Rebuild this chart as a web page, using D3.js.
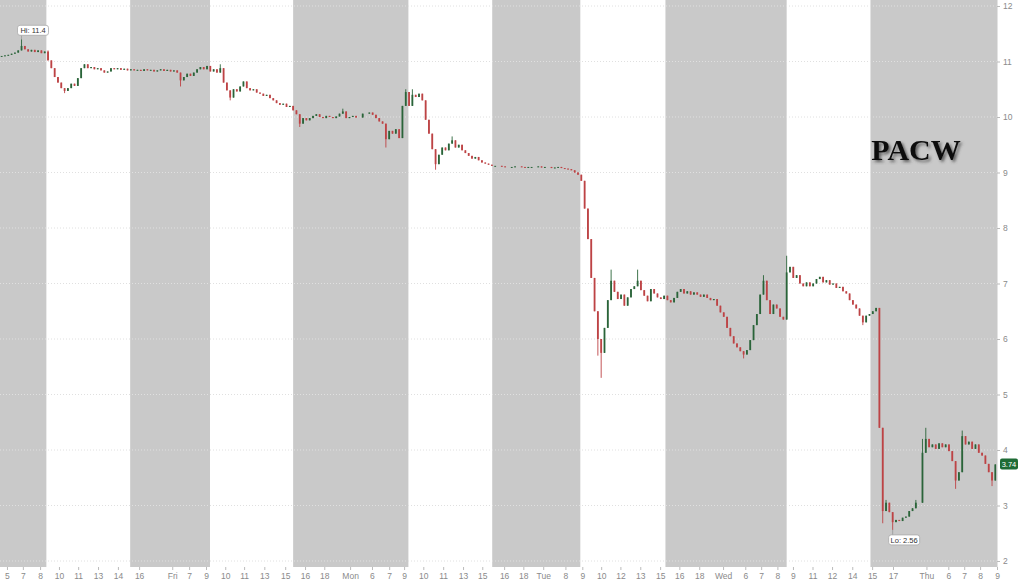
<!DOCTYPE html>
<html><head><meta charset="utf-8">
<script src="https://cdn.jsdelivr.net/npm/d3@7"></script>
<style>body{margin:0;background:#fff;}svg{display:block;}</style>
</head><body>
<svg id="chart" width="1024" height="581"></svg>
<script>
// ---- data (slot index = sequential bar position on the compressed intraday axis) ----
const closes = [
  11.10,11.11,11.12,11.14,11.16,11.20,11.28,11.22,11.18,11.21,11.17,11.20,11.15,11.18,
  11.02,10.88,10.72,10.62,10.52,10.47,10.52,10.60,10.56,10.70,10.88,10.95,10.88,10.90,10.86,10.88,10.84,10.80,10.82,10.88,10.86,10.88,10.85,10.87,10.84,
  10.86,10.84,10.85,10.83,10.86,10.84,10.85,10.82,10.84,10.86,10.83,10.85,10.82,10.84,10.80,10.66,10.72,10.78,10.74,10.80,10.86,10.90,10.86,10.92,
  10.82,10.86,10.80,10.88,10.62,10.48,10.35,10.50,10.46,10.55,10.64,10.52,10.48,10.50,10.44,10.42,10.38,10.40,10.34,10.30,10.25,10.22,10.24,10.18,10.20,10.12,
  10.05,9.88,9.98,9.94,9.98,10.02,10.05,10.00,9.98,10.02,10.00,9.98,10.01,10.06,10.10,9.98,10.00,10.02,9.99,null,10.06,null,10.08,10.04,9.98,9.92,9.88,9.60,9.75,9.70,9.78,9.62,10.20,10.45,
  10.20,10.40,10.36,10.42,10.30,9.95,9.70,9.42,9.15,9.32,9.45,9.40,9.52,9.58,9.45,9.50,9.40,9.35,9.30,9.25,9.28,9.22,9.18,9.16,9.14,9.12,
  9.12,null,9.11,9.10,null,9.10,9.11,null,9.10,9.09,9.10,9.10,null,9.11,9.09,9.10,null,9.08,9.09,9.10,9.08,9.07,9.06,9.04,9.00,8.96,
  8.85,8.35,7.80,7.10,6.50,6.00,5.75,6.20,6.70,7.05,6.85,6.72,6.80,6.60,6.75,6.90,6.95,7.05,6.88,6.78,6.68,6.90,6.82,6.75,6.72,6.78,
  6.70,6.66,6.74,6.85,6.90,6.82,6.86,6.80,6.84,6.80,6.76,6.80,6.74,6.70,6.72,6.60,6.48,6.40,6.20,6.05,5.92,5.85,5.78,5.72,5.80,5.98,6.25,6.45,6.80,7.05,6.70,6.45,6.62,6.55,6.40,6.35,
  7.20,7.30,7.10,7.15,7.00,6.95,7.02,6.95,7.00,7.08,7.12,7.02,7.06,6.98,7.00,6.92,6.94,6.86,6.82,6.70,6.62,6.55,6.42,6.30,6.42,6.45,6.50,6.56,
  4.40,2.90,3.05,2.88,2.70,2.74,2.72,2.78,2.80,2.90,2.95,3.05,null,3.95,4.20,4.05,4.10,4.02,4.12,4.05,4.10,3.98,3.80,3.45,3.60,4.25,4.10,4.15,4.02,4.10,3.95,3.90,3.75,3.60,3.45,3.74
];
const highMarks = [[6,11.40],[14,11.20],[66,10.95],[103,10.15],[122,10.50],[124,10.50],[136,9.65],[184,7.25],[192,7.25],[230,7.15],[237,7.50],[267,3.10],[276,3.10],[278,4.20],[279,4.40],[290,4.35]];
const lowMarks = [[19,10.43],[54,10.55],[69,10.30],[90,9.82],[116,9.45],[131,9.05],[180,5.70],[181,5.30],[224,5.65],[260,6.25],[266,2.68],[269,2.56],[278,3.40],[288,3.30],[299,3.35]];
const regularSessions = [[13.5,38.8],[62.9,88.0],[122.8,148.1],[174.7,200.4],[237.0,262.3]];
const xTickLabels = ["5","7","8","10","11","13","14","16","Fri","7","9","10","11","13","15","16","18","Mon","6","7","9","10","11","13","15","16","18","Tue","8","9","10","12","13","15","16","18","Wed","6","7","8","9","11","12","14","15","17","Thu","6","7","8","9"];
const xTickSlots  = [1.6,6.4,11.6,17.3,23.1,29.1,35.1,41.5,51.5,56.6,61.7,67.5,73.2,79.3,85.6,91.6,97.4,105.2,111.8,117,121.5,127.3,133.3,139.3,145.1,151.7,157.5,163.5,170.2,175.3,181,186.8,192.8,198.8,204.6,210.6,217.8,224.5,229.3,234.2,238.9,244.8,250.7,256.8,262.8,269.1,279.2,285.8,290.6,295.4,300.5];
const yTicks = [2,3,4,5,6,7,8,9,10,11,12];
const tickerName = "PACW";

// ---- layout ----
const plotRight = 997, plotBottom = 567;
const svg = d3.select("#chart");
const x = d3.scaleLinear().domain([-0.5, 300.5]).range([0, plotRight]);
const y = d3.scaleLinear().domain([2, 12]).range([561, 6]);

// candles
const hMap = new Map(highMarks), lMap = new Map(lowMarks);
const candles = [];
let prev = null;
closes.forEach((c, i) => {
  if (c == null) return;
  const o = prev == null ? c : prev;
  let h = Math.max(o, c), l = Math.min(o, c);
  if (hMap.has(i)) h = Math.max(h, hMap.get(i));
  if (lMap.has(i)) l = Math.min(l, lMap.get(i));
  candles.push({i, o, h, l, c});
  prev = c;
});

// background & bands
svg.append("rect").attr("width",1024).attr("height",581).attr("fill","#ffffff");
const bounds = [-0.5];
regularSessions.forEach(s => bounds.push(s[0], s[1]));
bounds.push(300.5);
const grayBands = [];
for (let k = 0; k < bounds.length; k += 2) grayBands.push([bounds[k], bounds[k+1]]);
svg.append("g").selectAll("rect").data(grayBands).join("rect")
  .attr("x", d => x(d[0])).attr("width", d => x(d[1]) - x(d[0]))
  .attr("y", 0).attr("height", plotBottom).attr("fill", "#c9c9c9");

// grid
svg.append("g").selectAll("line").data(yTicks).join("line")
  .attr("x1", 0).attr("x2", plotRight).attr("y1", d => y(d)).attr("y2", d => y(d))
  .attr("stroke", "#e0e0e0").attr("stroke-dasharray", "1,2").attr("stroke-width", 1);

// candles
const bw = 1.8;
const cg = svg.append("g");
const up = "#2a6439", down = "#bd4345";
cg.selectAll("line").data(candles).join("line")
  .attr("x1", d => x(d.i)).attr("x2", d => x(d.i))
  .attr("y1", d => y(d.h)).attr("y2", d => y(d.l))
  .attr("stroke", d => d.c >= d.o ? up : down).attr("stroke-width", 0.9);
cg.selectAll("rect").data(candles).join("rect")
  .attr("x", d => x(d.i) - bw/2).attr("width", bw)
  .attr("y", d => y(Math.max(d.o, d.c)))
  .attr("height", d => Math.max(1, Math.abs(y(d.o) - y(d.c))))
  .attr("fill", d => d.c >= d.o ? up : down);

// axes
svg.append("line").attr("x1", plotRight).attr("x2", plotRight).attr("y1", 0).attr("y2", plotBottom)
  .attr("stroke", "#c8c8c8");
const xa = svg.append("g").attr("transform", `translate(0,${plotBottom})`)
  .call(d3.axisBottom(x).tickValues(xTickSlots).tickFormat((d, i) => xTickLabels[i]).tickSize(3).tickPadding(3));
xa.select(".domain").remove();
xa.selectAll("line").attr("stroke", "#bbb");
xa.selectAll("text").attr("fill", "#8a8a8a").style("font", "8.5px 'Liberation Sans', Arial, sans-serif");
const ya = svg.append("g").attr("transform", `translate(${plotRight},0)`)
  .call(d3.axisRight(y).tickValues(yTicks).tickFormat(d3.format("d")).tickSize(3).tickPadding(3));
ya.select(".domain").remove();
ya.selectAll("line").attr("stroke", "#bbb");
ya.selectAll("text").attr("fill", "#8a8a8a").style("font", "8.5px 'Liberation Sans', Arial, sans-serif");

// Hi / Lo labels
const hiC = candles.reduce((a, b) => b.h > a.h ? b : a);
const loC = candles.reduce((a, b) => b.l < a.l ? b : a);
function tag(cx, cy, txt, above) {
  const w = 31, h = 10;
  const bx = cx - 4, by = above ? cy - h - 4 : cy + 5;
  svg.append("line").attr("x1", cx).attr("x2", cx)
    .attr("y1", above ? by + h : cy).attr("y2", above ? cy : by).attr("stroke", "#999").attr("stroke-width", 0.8);
  svg.append("rect").attr("x", bx).attr("y", by).attr("width", w).attr("height", h).attr("rx", 2.5)
    .attr("fill", "#fff").attr("stroke", "#aaa").attr("stroke-width", 0.8);
  svg.append("text").attr("x", bx + w/2).attr("y", by + h/2 + 2.6).attr("text-anchor", "middle")
    .attr("fill", "#333").style("font", "7.5px 'Liberation Sans', Arial, sans-serif").text(txt);
}
tag(x(hiC.i), y(hiC.h), "Hi: " + d3.format(".1f")(hiC.h), true);
tag(x(loC.i), y(loC.l), "Lo: " + d3.format(".2f")(loC.l), false);

// last price tag
const last = candles[candles.length - 1];
svg.append("rect").attr("x", 1000).attr("y", y(last.c) - 6).attr("width", 18).attr("height", 11).attr("rx", 2)
  .attr("fill", "#1e6b35");
svg.append("text").attr("x", 1009).attr("y", y(last.c) + 2.5).attr("text-anchor", "middle")
  .attr("fill", "#fff").style("font", "7.5px 'Liberation Sans', Arial, sans-serif").text(d3.format(".2f")(last.c));

// title
const defs = svg.append("defs");
const f = defs.append("filter").attr("id", "sh").attr("x", "-20%").attr("y", "-40%").attr("width", "140%").attr("height", "180%");
f.append("feDropShadow").attr("dx", 2).attr("dy", 2).attr("stdDeviation", 1.8).attr("flood-color", "#444").attr("flood-opacity", 0.8);
svg.append("text").attr("x", 916).attr("y", 160).attr("text-anchor", "middle")
  .attr("filter", "url(#sh)").attr("fill", "#111")
  .style("font", "bold 30px 'Liberation Serif', 'Times New Roman', serif").text(tickerName);
</script>
</body></html>
